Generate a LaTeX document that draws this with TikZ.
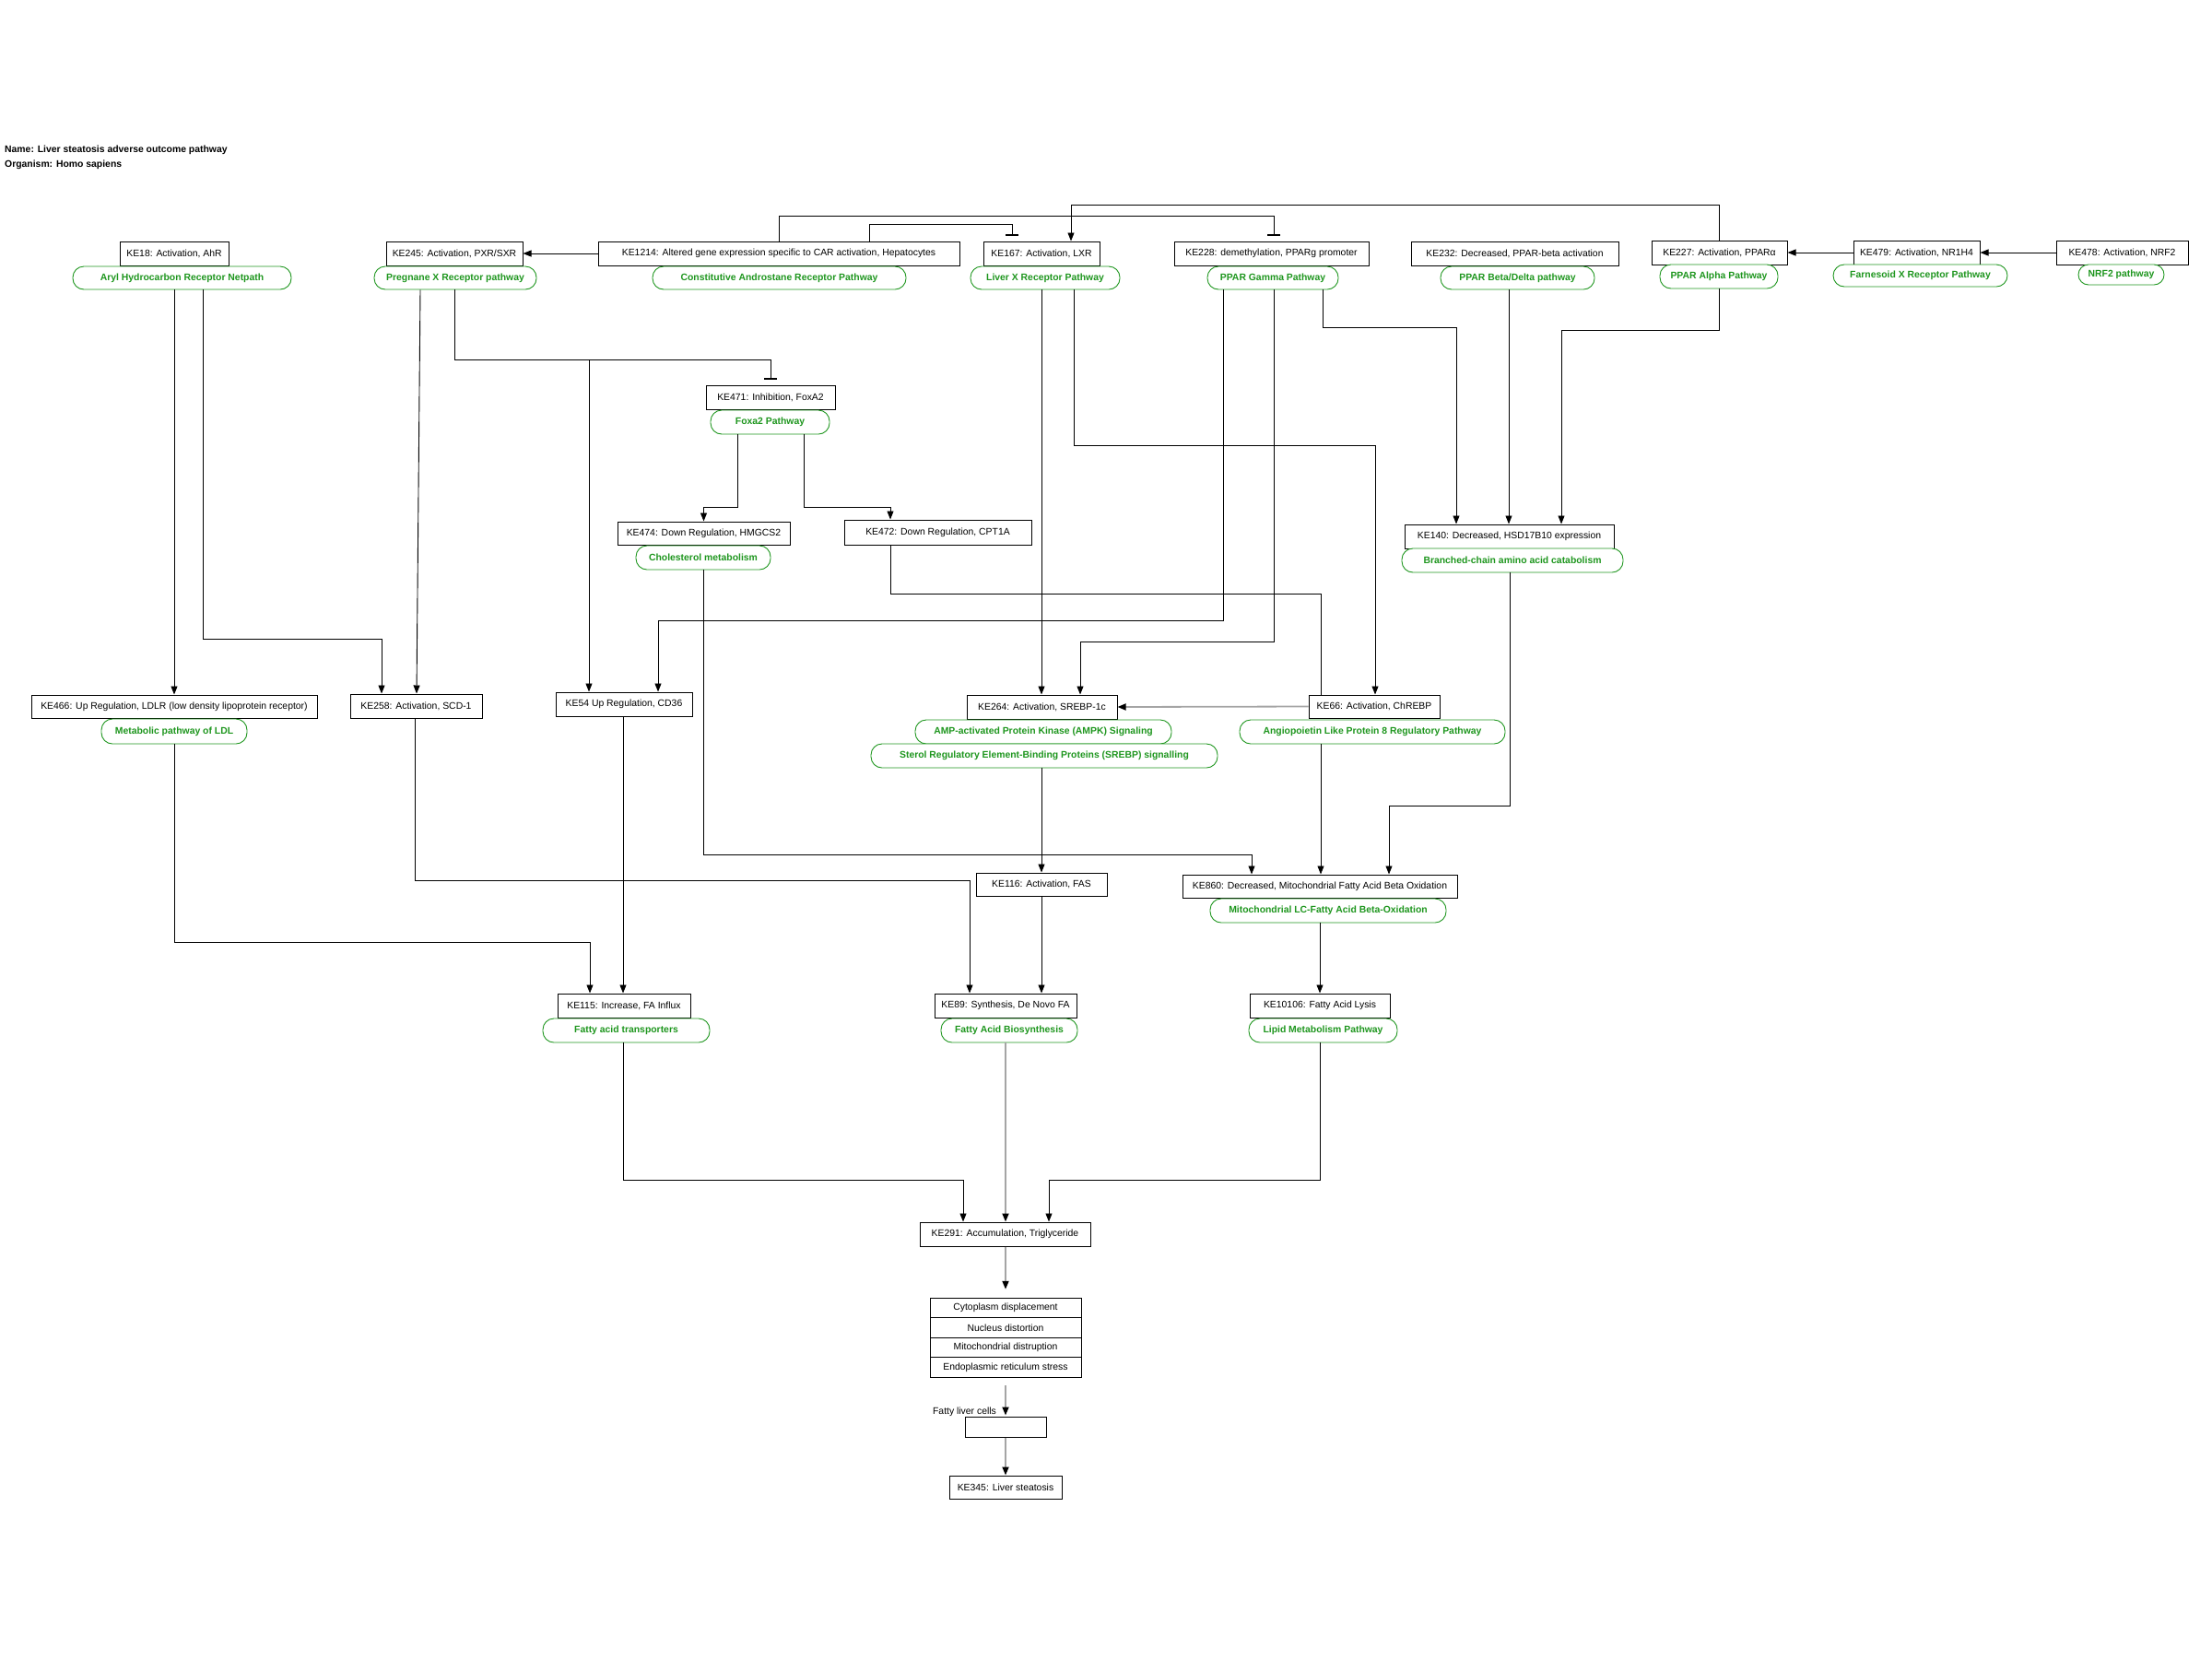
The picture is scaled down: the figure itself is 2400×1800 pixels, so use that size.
\documentclass[tikz,border=0pt]{standalone}
\usepackage{fontspec}
\setmainfont{Liberation Sans}
\usetikzlibrary{arrows.meta}
\definecolor{pwgreen}{RGB}{30,150,30}
\definecolor{lnkgray}{RGB}{165,165,165}
\begin{document}
\begin{tikzpicture}[x=1pt,y=-1pt,
  every node/.style={font=\fontsize{10.4pt}{12pt}\selectfont, inner sep=0pt},
  kebox/.style={draw=black, line width=1pt, fill=white, minimum height=26pt},
  pwbox/.style={draw=pwgreen, line width=0.9pt, fill=white, rounded corners=12pt,
    minimum height=26pt, text=pwgreen, font=\fontsize{10.4pt}{12pt}\selectfont\bfseries},
  rowbox/.style={draw=black, line width=1pt, fill=white, minimum width=164pt, minimum height=21.5pt},
  conn/.style={draw=black, line width=0.9pt, -{Triangle[length=9pt,width=7pt]}},
  conng/.style={draw=lnkgray, line width=1.8pt, -{Triangle[length=9pt,width=7pt,color=black]}},
  inhib/.style={draw=black, line width=0.9pt, -{Bar[width=14pt,line width=1.2pt]}},
  plainline/.style={draw=black, line width=0.9pt},
  heading/.style={anchor=west, font=\fontsize{10.4pt}{12pt}\selectfont\bfseries},
]
\useasboundingbox (0,0) rectangle (2400,1800);

% header
\node[heading] (name) at (5,163) {Name: Liver steatosis adverse outcome pathway};
\node[heading] (org) at (5,179) {Organism: Homo sapiens};

% top row of key events
\node[kebox, minimum width=118pt] (ke18) at (189,275) {KE18: Activation, AhR};
\node[pwbox, minimum width=237pt, minimum height=25pt] (pw18) at (197.5,301.5) {Aryl Hydrocarbon Receptor Netpath};
\node[kebox, minimum width=148pt] (ke245) at (493,275) {KE245: Activation, PXR/SXR};
\node[pwbox, minimum width=176pt, minimum height=25pt] (pw245) at (494,301.5) {Pregnane X Receptor pathway};
\node[kebox, minimum width=392pt] (ke1214) at (845,275) {KE1214: Altered gene expression specific to CAR activation, Hepatocytes};
\node[pwbox, minimum width=275pt, minimum height=25pt] (pw1214) at (845.5,301.5) {Constitutive Androstane Receptor Pathway};
\node[kebox, minimum width=126pt] (ke167) at (1130,275) {KE167: Activation, LXR};
\node[pwbox, minimum width=162pt, minimum height=25pt] (pw167) at (1134,301.5) {Liver X Receptor Pathway};
\node[kebox, minimum width=211pt] (ke228) at (1379.5,275) {KE228: demethylation, PPARg promoter};
\node[pwbox, minimum width=142pt, minimum height=25pt] (pw228) at (1381,301.5) {PPAR Gamma Pathway};
\node[kebox, minimum width=225pt] (ke232) at (1643.5,275) {KE232: Decreased, PPAR-beta activation};
\node[pwbox, minimum width=167pt, minimum height=25pt] (pw232) at (1646.5,301.5) {PPAR Beta/Delta pathway};
\node[kebox, minimum width=147pt] (ke227) at (1865.5,274) {KE227: Activation, PPARα};
\node[pwbox, minimum width=128pt] (pw227) at (1865,300) {PPAR Alpha Pathway};
\node[kebox, minimum width=137pt] (ke479) at (2079.5,274) {KE479: Activation, NR1H4};
\node[pwbox, minimum width=189pt, minimum height=24pt] (pw479) at (2083.5,299) {Farnesoid X Receptor Pathway};
\node[kebox, minimum width=143pt] (ke478) at (2302.5,274) {KE478: Activation, NRF2};
\node[pwbox, minimum width=93pt, minimum height=22pt, rounded corners=11pt] (pw478) at (2301.5,298) {NRF2 pathway};

% FoxA2 branch and HSD17B10
\node[kebox, minimum width=140pt] (ke471) at (836,431) {KE471: Inhibition, FoxA2};
\node[pwbox, minimum width=129pt] (pw471) at (835.5,458) {Foxa2 Pathway};
\node[kebox, minimum width=187pt, minimum height=25pt] (ke474) at (763.5,578.5) {KE474: Down Regulation, HMGCS2};
\node[pwbox, minimum width=146pt] (pw474) at (763,605) {Cholesterol metabolism};
\node[kebox, minimum width=203pt, minimum height=27pt] (ke472) at (1017.5,577.5) {KE472: Down Regulation, CPT1A};
\node[kebox, minimum width=227pt] (ke140) at (1637.5,582) {KE140: Decreased, HSD17B10 expression};
\node[pwbox, minimum width=240pt] (pw140) at (1641,608) {Branched-chain amino acid catabolism};

% middle row
\node[kebox, minimum width=310pt, minimum height=25pt] (ke466) at (189,766.5) {KE466: Up Regulation, LDLR (low density lipoprotein receptor)};
\node[pwbox, minimum width=158pt, minimum height=27pt] (pw466) at (189,793.5) {Metabolic pathway of LDL};
\node[kebox, minimum width=143pt] (ke258) at (451.5,766) {KE258: Activation, SCD-1};
\node[kebox, minimum width=148pt] (ke54) at (677,764) {KE54 Up Regulation, CD36};
\node[kebox, minimum width=163pt] (ke264) at (1130.5,767) {KE264: Activation, SREBP-1c};
\node[pwbox, minimum width=278pt] (pw264a) at (1132,794) {AMP-activated Protein Kinase (AMPK) Signaling};
\node[pwbox, minimum width=376pt] (pw264b) at (1133,820) {Sterol Regulatory Element-Binding Proteins (SREBP) signalling};
\node[kebox, minimum width=142pt, minimum height=25pt] (ke66) at (1491,766.5) {KE66: Activation, ChREBP};
\node[pwbox, minimum width=288pt] (pw66) at (1489,794) {Angiopoietin Like Protein 8 Regulatory Pathway};

% FAS and beta oxidation
\node[kebox, minimum width=142pt, minimum height=25pt] (ke116) at (1130,959.5) {KE116: Activation, FAS};
\node[kebox, minimum width=298pt, minimum height=25pt] (ke860) at (1432,961.5) {KE860: Decreased, Mitochondrial Fatty Acid Beta Oxidation};
\node[pwbox, minimum width=256pt] (pw860) at (1441,988) {Mitochondrial LC-Fatty Acid Beta-Oxidation};

% fatty acid row
\node[kebox, minimum width=144pt] (ke115) at (677,1091) {KE115: Increase, FA Influx};
\node[pwbox, minimum width=181pt] (pw115) at (679.5,1118) {Fatty acid transporters};
\node[kebox, minimum width=154pt] (ke89) at (1091,1091) {KE89: Synthesis, De Novo FA};
\node[pwbox, minimum width=148pt] (pw89) at (1095,1118) {Fatty Acid Biosynthesis};
\node[kebox, minimum width=152pt] (ke10106) at (1432,1091) {KE10106: Fatty Acid Lysis};
\node[pwbox, minimum width=161pt] (pw10106) at (1435.5,1118) {Lipid Metabolism Pathway};

% outcome chain
\node[kebox, minimum width=185pt] (ke291) at (1090.5,1339) {KE291: Accumulation, Triglyceride};
\node[rowbox] (row1) at (1091,1419) {Cytoplasm displacement};
\node[rowbox] (row2) at (1091,1440.5) {Nucleus distortion};
\node[rowbox] (row3) at (1091,1462) {Mitochondrial distruption};
\node[rowbox] (row4) at (1091,1483.5) {Endoplasmic reticulum stress};
\node[draw=black, line width=1pt, fill=white, minimum width=88pt, minimum height=22pt] (cells) at (1091,1548) {};
\node (cellslabel) at (1046.5,1532) {Fatty liver cells};
\node[kebox, minimum width=122pt, minimum height=25pt] (ke345) at (1091,1613.5) {KE345: Liver steatosis};

% relations among the top row
\draw[conn] (ke1214.west) -- (ke245.east);
\draw[inhib] ([xshift=98pt]ke1214.north) -- ++(0,-18) -| ([xshift=-32pt,yshift=6pt]ke167.north);
\draw[inhib] (ke1214.north) -- ++(0,-27) -| ([xshift=2.5pt,yshift=6pt]ke228.north);
\draw[conn] (ke227.north) -- ++(0,-38) -| ([xshift=32pt]ke167.north);
\draw[conn] (ke478.west) -- (ke479.east);
\draw[conn] (ke479.west) -- (ke227.east);

% from the AhR and PXR pathways
\draw[conn] ([xshift=-8.5pt]pw18.south) -- (ke466.north);
\draw[conn] ([xshift=22.5pt]pw18.south) -- ++(0,379) -| ([xshift=-37.5pt]ke258.north);
\draw[conn] ([xshift=-38pt]pw245.south) -- ([xshift=0.5pt]ke258.north);
\draw[inhib] ([xshift=-1pt]pw245.south) -- ++(0,76) -| ([yshift=6pt]ke471.north);
\draw[conn] ([xshift=-1pt]pw245.south) -- ++(0,76) -| ([xshift=-38pt]ke54.north);

% FoxA2 targets
\draw[conn] ([xshift=-35.5pt]pw471.south) -- ++(0,79) -| (ke474.north);
\draw[conn] ([xshift=36.5pt]pw471.south) -- ++(0,79) -| ([xshift=-51.5pt]ke472.north);

% LXR and PPAR pathways
\draw[conn] ([xshift=-4pt]pw167.south) -- ([xshift=-0.5pt]ke264.north);
\draw[conn] ([xshift=31pt]pw167.south) -- ++(0,169) -| ([xshift=1pt]ke66.north);
\draw[conn] ([xshift=-54pt]pw228.south) -- ++(0,359) -| ([xshift=37pt]ke54.north);
\draw[conn] ([xshift=1pt]pw228.south) -- ++(0,382) -| ([xshift=41.5pt]ke264.north);
\draw[conn] ([xshift=54pt]pw228.south) -- ++(0,41) -| ([xshift=-57.5pt]ke140.north);
\draw[conn] ([xshift=-9.5pt]pw232.south) -- ([xshift=-0.5pt]ke140.north);
\draw[conn] (pw227.south) -- ++(0,45) -| ([xshift=56.5pt]ke140.north);

% towards beta oxidation
\draw[conn] (pw474.south) -- ++(0,309) -| ([xshift=-74pt]ke860.north);
\draw[plainline] ([xshift=-51.5pt]ke472.south) -- ++(0,53) -| ([xshift=-58pt]ke66.north);
\draw[conn] ([xshift=-3pt]pw140.south) -- ++(0,253) -| ([xshift=75pt]ke860.north);
\draw[conn] ([xshift=-56pt]pw66.south) -- ([xshift=1pt]ke860.north);
\draw[conng] (ke66.west) -- (ke264.east);

% fatty acid synthesis and influx
\draw[conn] ([xshift=-3pt]pw264b.south) -- (ke116.north);
\draw[conn] ([xshift=-1.5pt]ke258.south) -- ++(0,176) -| ([xshift=-39pt]ke89.north);
\draw[conn] (ke116.south) -- ([xshift=39pt]ke89.north);
\draw[conn] (pw466.south) -- ++(0,215) -| ([xshift=-37pt]ke115.north);
\draw[conn] ([xshift=-1pt]ke54.south) -- ([xshift=-1pt]ke115.north);
\draw[conn] ([xshift=-9pt]pw860.south) -- (ke10106.north);

% into triglyceride accumulation
\draw[conn] ([xshift=-3.5pt]pw115.south) -- ++(0,149) -| ([xshift=-45.5pt]ke291.north);
\draw[conng] ([xshift=-4pt]pw89.south) -- ([xshift=0.5pt]ke291.north);
\draw[conn] ([xshift=-3.5pt]pw10106.south) -- ++(0,149) -| ([xshift=47.5pt]ke291.north);

% outcome chain
\draw[conng] ([xshift=0.5pt]ke291.south) -- ([yshift=9pt]row1.north);
\draw[conng] ([yshift=-8pt]row4.south) -- ([yshift=1pt]cells.north);
\draw[conng] (cells.south) -- (ke345.north);
\end{tikzpicture}
\end{document}
